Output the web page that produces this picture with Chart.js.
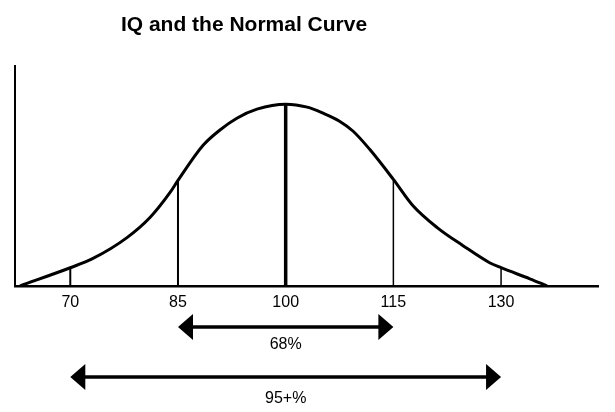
<!DOCTYPE html>
<html><head><meta charset="utf-8">
<script src="https://cdn.jsdelivr.net/npm/chart.js@4.4.1/dist/chart.umd.min.js"></script>
<style>html,body{margin:0;padding:0;background:#fff}#wrap{width:615px;height:412px;position:relative}</style>
</head><body><div id="wrap"><canvas id="c"></canvas></div>
<script>
const titleText = 'IQ and the Normal Curve';
const tickValues = [70, 85, 100, 115, 130];
const curveIQ = [63.0, 70, 73.1, 77.9, 81.1, 83.9, 85, 88.5, 90.8, 93.2, 96.0, 100, 103.0, 105.2, 107.5, 109.4, 111.7, 115, 117.7, 121.1, 124.7, 128.4, 130, 134.0, 136.4];
const curveHeight = [0, 18, 27, 48, 68, 93, 105, 140, 155, 167, 176, 181, 178, 172, 164, 154, 136, 106, 80, 58, 40, 23, 18, 7, 0];
const markerIQ = [70, 85, 100, 115, 130];
const markerHeight = [18, 105, 181, 106, 18];
const rangeLabels = ['68%', '95+%'];
const rangeFrom = [85, 70];
const rangeTo = [115, 130];

const markerWidths = [2, 2, 3.5, 1.5, 1.5];
const datasets = [{
  data: curveIQ.map((x, i) => ({x: x, y: curveHeight[i]})),
  borderColor: '#000', borderWidth: 3, pointRadius: 0, fill: false,
  cubicInterpolationMode: 'monotone'
}];
markerIQ.forEach((x, i) => {
  datasets.push({
    data: [{x: x, y: 0}, {x: x, y: markerHeight[i]}],
    borderColor: '#000', borderWidth: markerWidths[i], pointRadius: 0, fill: false
  });
});

const FONT = "'Liberation Sans', Arial, sans-serif";
const decor = {
  id: 'decor',
  afterDraw(chart) {
    const ctx = chart.ctx;
    const xs = chart.scales.x;
    ctx.save();
    ctx.fillStyle = '#000';
    ctx.strokeStyle = '#000';
    ctx.font = 'bold 21px ' + FONT;
    ctx.textAlign = 'center';
    ctx.textBaseline = 'alphabetic';
    ctx.fillText(titleText, 244, 31);
    const ys = [327, 377];
    const textY = [349, 403];
    rangeFrom.forEach((f, i) => {
      const x1 = xs.getPixelForValue(f), x2 = xs.getPixelForValue(rangeTo[i]);
      const y = ys[i], hl = 15, hh = 13;
      ctx.lineWidth = 3.5;
      ctx.beginPath(); ctx.moveTo(x1 + hl - 2, y); ctx.lineTo(x2 - hl + 2, y); ctx.stroke();
      ctx.beginPath(); ctx.moveTo(x1, y); ctx.lineTo(x1 + hl, y - hh); ctx.lineTo(x1 + hl, y + hh); ctx.closePath(); ctx.fill();
      ctx.beginPath(); ctx.moveTo(x2, y); ctx.lineTo(x2 - hl, y - hh); ctx.lineTo(x2 - hl, y + hh); ctx.closePath(); ctx.fill();
      ctx.font = '16px ' + FONT;
      ctx.fillText(rangeLabels[i], (x1 + x2) / 2, textY[i]);
    });
    ctx.restore();
  }
};

new Chart(document.getElementById('c'), {
  type: 'line',
  data: {datasets: datasets},
  plugins: [decor],
  options: {
    responsive: true, maintainAspectRatio: false, animation: false,
    layout: {padding: {left: 15, right: 17, top: 66, bottom: 93}},
    plugins: {legend: {display: false}, tooltip: {enabled: false}, title: {display: false}},
    scales: {
      x: {
        type: 'linear', min: 62.3, max: 143.5,
        grid: {display: false, drawTicks: false},
        border: {display: true, color: '#000', width: 2.5},
        ticks: {color: '#000', font: {family: FONT, size: 16}, padding: 7, maxRotation: 0, autoSkip: false},
        afterBuildTicks: s => { s.ticks = tickValues.map(v => ({value: v})); }
      },
      y: {
        min: 0, max: 219,
        grid: {display: false, drawTicks: false},
        border: {display: true, color: '#000', width: 2},
        ticks: {display: false}
      }
    }
  }
});
</script></body></html>
